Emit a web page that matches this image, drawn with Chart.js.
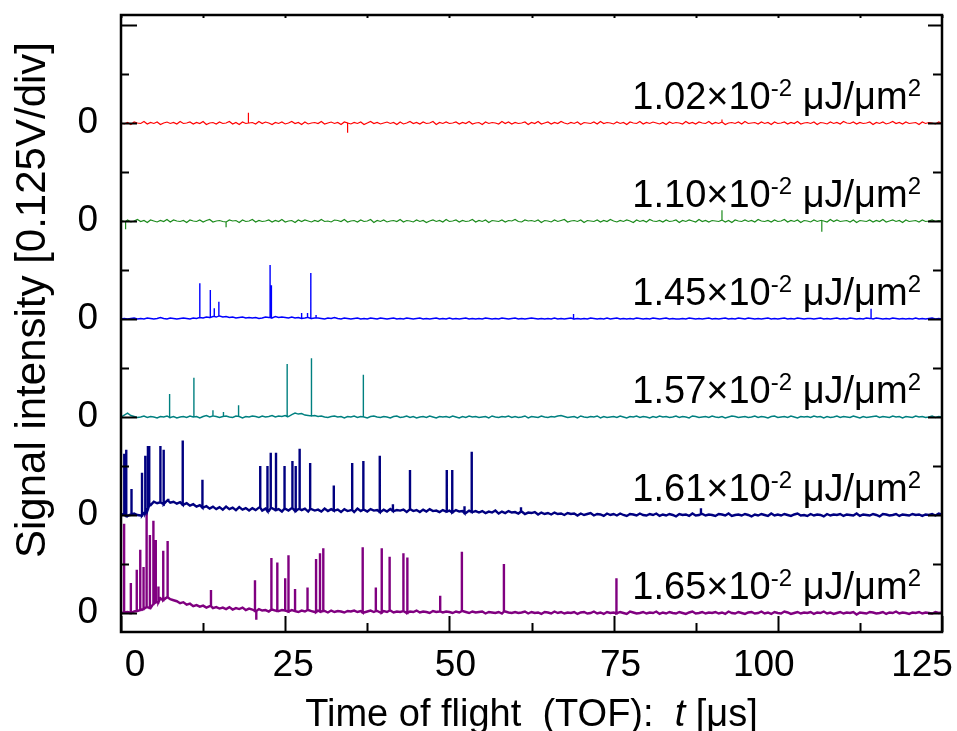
<!DOCTYPE html>
<html>
<head>
<meta charset="utf-8">
<title>TOF signal vs. fluence</title>
<script src="https://cdn.jsdelivr.net/npm/chart.js@4/dist/chart.umd.min.js"></script>
<style>
  html, body { margin: 0; padding: 0; background: #ffffff; }
  #wrap { width: 957px; height: 731px; }
</style>
</head>
<body>
<div id="wrap"><canvas id="tof" width="957" height="731"></canvas></div>
<script>
// ---------------------------------------------------------------
// Data: TOF traces, top to bottom (increasing laser fluence)
// ---------------------------------------------------------------
const fluenceLabels = ['1.02', '1.10', '1.45', '1.57', '1.61', '1.65']; // ×10^-2 µJ/µm²

const sampleStep = 0.5; // µs between baseline samples

// Baseline signal, hundredths of a division, one sample every 0.5 µs (t = 0 … 125)
const baseline102 = [
  0,-2,1,-3,2,0,-1,3,-2,1,
  -1,2,-3,0,2,-1,1,-2,3,-1,
  0,2,-2,1,-1,3,-3,0,1,-2,
  2,-1,0,3,-2,1,-3,2,-1,0,
  1,-2,3,-1,2,0,-3,1,-1,2,
  -2,0,3,-1,1,-3,2,-2,0,1,
  -1,3,-2,0,2,-1,1,-3,2,0,
  -2,1,-1,2,-3,0,3,-1,1,-2,
  0,2,-1,1,-3,2,-2,0,3,-1,
  1,-2,2,-1,0,3,-3,1,-1,2,
  -1,0,2,-2,1,-1,3,-2,0,1,
  -3,2,-1,1,0,-2,3,-1,2,-2,
  1,-1,0,2,-3,1,-1,3,-2,0,
  2,-2,1,-1,3,0,-2,1,-1,2,
  -3,1,0,-1,2,-2,3,-1,1,0,
  -2,2,-1,1,-3,2,0,-1,3,-2,
  1,-1,2,0,-2,1,-3,2,-1,1,
  0,-2,3,-1,1,-2,2,0,-1,3,
  -2,1,-1,2,-3,0,1,-1,2,-2,
  3,-1,0,1,-2,2,-1,1,-3,2,
  -1,0,2,-2,1,-1,3,-2,0,1,
  -1,2,-3,1,0,-2,2,-1,1,-2,
  3,0,-1,2,-2,1,-1,0,2,-3,
  1,-1,2,-2,0,3,-1,1,-2,2,
  -1,0,1,-3,2,-1,1,0,-2,2,
  -1
];
const baseline110 = [
  1,-1,2,-2,0,3,-1,1,-3,2,
  0,-2,1,-1,3,-2,2,0,-1,1,
  -3,2,0,-1,2,-2,1,3,-2,0,
  1,-1,-2,2,0,1,-3,2,-1,0,
  3,-2,1,-1,0,2,-2,1,-1,3,
  -2,0,1,-3,2,-1,2,0,-2,1,
  -1,3,-1,0,-2,2,1,-1,3,-2,
  0,1,-2,2,-1,0,3,-3,1,-1,
  2,-2,0,1,-1,3,-2,1,0,-2,
  2,-1,1,-3,0,2,-1,1,-2,3,
  -1,0,2,-2,1,-1,0,3,-2,1,
  -1,2,-3,1,0,-1,2,-2,1,0,
  3,-1,-2,2,0,1,-1,2,-3,1,
  0,-2,2,-1,1,3,-2,0,1,-1,
  2,-3,1,0,-1,2,-2,1,-1,3,
  0,-2,1,-1,2,0,-3,2,-1,1,
  -2,3,0,-1,1,-2,2,-1,0,2,
  -3,1,-1,2,0,-2,3,-1,1,-2,
  1,0,-1,2,-2,1,-3,2,0,-1,
  2,-1,1,-2,3,0,-1,1,-2,2,
  -1,0,3,-2,1,-1,2,-3,1,0,
  -2,2,-1,1,0,-2,3,-1,2,-1,
  0,1,-2,2,-3,1,0,-1,2,-2,
  1,-1,3,-2,0,2,-1,1,-3,2,
  -1,0,1,-2,2,-1,0,2,-1,1,
  0
];
const baseline145 = [
  0,1,0,1,2,0,1,0,2,1,
  0,1,3,1,0,2,1,0,1,2,
  1,0,2,1,3,2,4,3,5,4,
  6,4,5,3,4,2,3,4,2,3,
  2,3,1,2,4,3,2,5,3,4,
  3,2,4,2,3,1,2,3,1,2,
  2,1,0,2,1,3,1,0,2,1,
  0,1,2,0,1,0,2,1,0,2,
  1,0,1,2,0,1,0,2,1,0,
  1,2,0,1,0,1,2,0,1,0,
  2,0,1,0,1,2,0,1,0,1,
  0,2,1,0,1,0,2,1,0,1,
  2,0,1,0,1,2,1,0,1,0,
  1,0,2,0,1,0,1,2,0,1,
  0,1,0,2,1,0,1,0,2,0,
  1,2,0,1,0,1,0,2,1,0,
  1,0,2,1,0,1,2,0,1,0,
  0,1,0,2,1,0,1,0,1,2,
  0,1,0,1,2,0,1,0,2,1,
  0,2,1,0,1,0,1,2,0,1,
  0,1,2,0,1,0,2,1,0,1,
  1,0,1,2,0,1,0,1,2,0,
  1,0,2,1,0,1,0,2,1,0,
  2,1,0,1,0,2,1,0,1,0,
  1,0,2,0,1,0,1,2,0,1,
  0
];
const baseline157 = [
  0,4,8,3,1,-1,0,2,-1,1,
  0,-2,1,0,2,-1,1,-2,0,1,
  -1,2,0,1,-2,1,3,0,2,1,
  -1,1,2,0,-1,2,1,-2,1,0,
  2,1,-1,2,0,1,3,0,2,1,
  3,1,5,8,6,7,4,3,2,3,
  1,2,0,-1,1,2,0,1,-2,1,
  0,2,-1,1,0,-2,1,2,0,-1,
  1,0,-2,1,2,-1,0,2,-1,1,
  -2,0,1,-1,2,0,-2,1,0,1,
  -1,2,0,-2,1,-1,2,0,1,-1,
  0,1,-2,2,0,-1,1,0,2,-1,
  1,-1,0,2,-2,1,0,-1,2,0,
  -1,1,0,2,3,1,-1,0,1,-2,
  2,0,-1,1,0,2,-2,1,-1,0,
  1,-1,2,0,-2,1,0,2,-1,1,
  0,-2,1,-1,2,0,1,-1,0,2,
  -1,1,0,-2,2,1,-1,0,1,-1,
  2,0,-1,1,-2,0,2,1,-1,0,
  1,-1,0,2,-1,1,0,-2,1,2,
  -1,0,1,-1,2,0,-2,1,0,1,
  -1,2,0,1,-2,1,-1,0,2,-1,
  1,0,-1,2,0,-2,1,-1,0,1,
  2,-1,1,0,-1,2,0,1,-2,1,
  0,-1,2,0,1,-1,0,2,-1,1,
  0
];
const baseline161 = [
  2,0,-2,1,3,0,-1,4,12,20,
  27,24,26,22,29,25,27,23,26,21,
  24,19,22,17,20,15,18,13,17,12,
  16,11,17,12,15,10,16,11,14,9,
  14,10,15,9,13,8,14,10,12,7,
  13,9,14,8,12,10,13,7,12,9,
  11,7,13,8,12,9,11,6,12,8,
  10,6,13,8,11,7,12,9,10,6,
  11,7,12,8,10,9,11,6,12,8,
  10,6,11,7,12,8,9,6,10,7,
  9,5,10,7,8,4,9,6,8,5,
  8,4,7,5,9,3,7,4,8,5,
  6,3,7,2,5,4,6,1,5,2,
  4,1,5,2,3,0,4,2,3,-1,
  3,0,2,4,-1,2,1,-2,3,0,
  2,-1,3,0,-2,2,1,-1,3,0,
  -1,2,0,3,-2,1,-1,2,0,-3,
  2,0,1,-2,3,-1,0,2,-1,1,
  0,-2,2,1,-1,3,-2,0,1,-1,
  2,0,-3,1,-1,2,0,-2,3,-1,
  1,-1,2,0,-2,1,3,-1,0,-2,
  2,-1,1,0,-3,2,-1,1,0,2,
  -2,1,0,-1,3,-2,1,0,-1,2,
  0,-3,2,1,-1,0,2,-2,1,0,
  -1,2,0,1,-2,1,0,2,-1,3,
  1
];
const baseline165 = [
  0,1,2,0,3,4,6,8,12,10,
  18,22,30,26,32,28,26,24,20,22,
  17,19,14,16,13,15,11,14,10,12,
  9,11,8,12,7,10,8,11,6,9,
  7,4,8,5,6,3,7,5,4,6,
  5,3,6,4,2,5,3,6,4,2,
  5,3,4,1,5,2,4,3,1,4,
  3,5,2,4,1,3,5,2,4,1,
  4,2,5,1,3,2,4,0,3,2,
  5,1,3,2,0,4,2,3,1,3,
  2,0,3,1,4,2,0,3,1,2,
  3,-1,2,1,0,2,-1,3,1,0,
  2,0,1,3,-1,2,0,1,-2,2,
  1,-1,3,0,2,-1,1,0,2,-2,
  1,2,-1,0,3,-1,1,-2,2,0,
  1,-1,2,0,-2,3,1,-1,0,2,
  -1,1,0,3,-2,1,-1,2,0,-1,
  2,0,-2,1,3,-1,0,2,-1,1,
  0,2,-1,1,-2,3,0,-1,2,0,
  -2,1,2,-1,0,3,-1,1,-2,2,
  0,-1,3,1,-2,0,2,-1,1,0,
  2,-2,1,0,3,-1,1,-2,0,2,
  -1,1,0,2,-3,1,0,-1,2,1,
  -1,0,2,-2,1,0,3,-1,1,0,
  -2,1,0,2,-1,1,0,-1,2,0,
  1
];

// Ion peaks: [time of flight (µs), peak signal (div)]
const peaks102 = [[19.4, 0.21], [34.5, -0.20], [91.5, 0.07], [125, -0.15]];
const peaks110 = [[0.7, -0.17], [16.0, -0.13], [91.5, 0.22], [106.7, -0.22]];
const peaks145 = [
  [0, 1.00], [12.0, 0.73], [13.6, 0.59], [14.2, 0.22], [14.9, 0.35],
  [22.7, 1.10], [22.9, 0.69], [27.5, 0.12], [28.4, 0.12], [28.9, 0.94],
  [29.7, 0.08], [68.9, 0.10], [114.2, 0.21]
];
const peaks157 = [
  [0, 0.92], [7.4, 0.47], [11.1, 0.80], [14.0, 0.14], [15.6, 0.10],
  [17.9, 0.24], [25.3, 1.08], [29.0, 1.20], [36.9, 0.86]
];
const peaks161 = [
  [0.5, 1.25], [0.8, 1.33], [1.6, 0.53], [3.2, 0.86], [3.7, 1.21],
  [4.1, 1.41], [4.3, 1.41], [6.0, 1.41], [6.5, 1.33], [7.2, 0.33],
  [9.4, 1.52], [12.4, 0.72], [21.2, 1.00], [22.3, 1.00], [22.8, 1.27],
  [23.6, 1.27], [24.9, 1.00], [26.1, 1.10], [26.6, 1.00], [27.2, 1.35],
  [28.8, 1.06], [32.4, 0.60], [35.2, 1.06], [36.9, 1.10], [39.4, 1.21],
  [41.4, 0.22], [44.0, 0.92], [49.6, 0.92], [50.4, 0.92], [52.3, 0.18],
  [53.4, 1.29], [60.9, 0.16], [88.3, 0.14]
];
const peaks165 = [
  [0.46, 1.82], [1.5, 0.61], [2.4, 0.88], [2.9, 1.29], [3.4, 0.94],
  [3.9, 2.07], [4.4, 1.59], [4.9, 1.88], [5.3, 1.49], [5.7, 0.54],
  [6.4, 1.27], [7.1, 1.47], [13.7, 0.47], [20.4, 0.67], [20.6, -0.14],
  [22.9, 1.12], [23.8, 1.03], [25.0, 0.71], [25.5, 1.18], [26.5, 0.49],
  [28.4, 0.52], [29.7, 1.10], [30.3, 1.22], [30.8, 1.32], [36.8, 1.34],
  [38.8, 0.52], [39.7, 1.32], [40.9, 1.15], [43.0, 1.22], [43.6, 1.13],
  [48.6, 0.35], [51.9, 1.25], [58.3, 1.00], [75.4, 0.71]
];

// Axis ticks
const xTickValues = [0, 25, 50, 75, 100, 125];
const xTickLabels = ['0', '25', '50', '75', '100', '125'];
const yTickValues = [0, 2, 4, 6, 8, 10];
const yTickLabels = ['0', '0', '0', '0', '0', '0'];

// ---------------------------------------------------------------
// Presentation
// ---------------------------------------------------------------
const FONT = "'Liberation Sans', Arial, Helvetica, sans-serif";
const DIVS_PER_TRACE = 2;           // vertical stacking step
const traceStyles = [
  { color: '#ff0000', width: 1.2 },
  { color: '#1b8a1b', width: 1.2 },
  { color: '#0000ff', width: 1.4 },
  { color: '#008080', width: 1.4 },
  { color: '#000080', width: 2.4 },
  { color: '#800080', width: 2.4 }
];
const baselines = [baseline102, baseline110, baseline145, baseline157, baseline161, baseline165];
const peakLists = [peaks102, peaks110, peaks145, peaks157, peaks161, peaks165];
const traceCount = baselines.length;
const offsetOf = i => (traceCount - 1 - i) * DIVS_PER_TRACE;

function buildTrace(base, peaks, offset) {
  const pts = base.map((v, i) => ({ x: i * sampleStep, y: offset + v / 100 }));
  peaks.forEach(([t, h]) => {
    const idx = Math.min(base.length - 1, Math.round(t / sampleStep));
    const foot = offset + base[idx] / 100;
    pts.push({ x: t, y: foot }, { x: t, y: offset + h }, { x: t, y: foot });
  });
  pts.sort((a, b) => a.x - b.x);
  return pts;
}

const datasets = baselines.map((b, i) => ({
  label: fluenceLabels[i],
  data: buildTrace(b, peakLists[i], offsetOf(i)),
  borderColor: traceStyles[i].color,
  borderWidth: traceStyles[i].width,
  pointRadius: 0,
  tension: 0,
  fill: false,
  borderJoinStyle: 'miter'
}));

// Inside tick marks and closed frame
const framePlugin = {
  id: 'frame',
  afterDatasetsDraw(chart) {
    const { ctx, chartArea: { left, right, top, bottom }, scales: { x, y } } = chart;
    ctx.save();
    ctx.strokeStyle = '#000';
    ctx.lineWidth = 2;
    ctx.beginPath();
    for (let v = 0; v <= 125.001; v += 12.5) {
      const px = Math.round(x.getPixelForValue(v)) + 0.5;
      const major = Math.abs(v % 25) < 1e-6;
      ctx.moveTo(px, bottom); ctx.lineTo(px, bottom - (major ? 16 : 9));
      ctx.moveTo(px, top); ctx.lineTo(px, top + 3);
    }
    for (let v = 0; v <= 12; v += 1) {
      const py = Math.round(y.getPixelForValue(v)) + 0.5;
      const major = v % 2 === 0;
      ctx.moveTo(left, py); ctx.lineTo(left + (major ? 16 : 8), py);
      ctx.moveTo(right, py); ctx.lineTo(right - (major ? 14 : 9), py);
    }
    ctx.stroke();
    ctx.lineWidth = 2.5;
    ctx.strokeRect(left, top, right - left, bottom - top);
    ctx.restore();
  }
};

// X tick labels, axis titles and fluence annotations
const textPlugin = {
  id: 'texts',
  afterDraw(chart) {
    const { ctx, chartArea: { left, right, top, bottom }, scales: { x, y } } = chart;
    ctx.save();
    ctx.fillStyle = '#000';

    // x tick labels
    const nudge = [14, 8, 6, 7, -14, -20];
    ctx.font = `37px ${FONT}`;
    ctx.textAlign = 'center';
    ctx.textBaseline = 'alphabetic';
    xTickValues.forEach((v, i) => {
      ctx.fillText(xTickLabels[i], x.getPixelForValue(v) + nudge[i], bottom + 44);
    });

    // x title with italic t
    const parts = [
      ['Time of flight  (TOF):  ', ''],
      ['t', 'italic '],
      [' [μs]', '']
    ];
    let total = 0;
    parts.forEach(([s, st]) => { ctx.font = `${st}38px ${FONT}`; total += ctx.measureText(s).width; });
    let cx = (left + right) / 2 - total / 2;
    ctx.textAlign = 'left';
    parts.forEach(([s, st]) => {
      ctx.font = `${st}38px ${FONT}`;
      ctx.fillText(s, cx, 726);
      cx += ctx.measureText(s).width;
    });

    // y title
    ctx.save();
    ctx.translate(45, 300);
    ctx.rotate(-Math.PI / 2);
    ctx.font = `42px ${FONT}`;
    ctx.textAlign = 'center';
    ctx.fillText('Signal intensity [0.125V/div]', 0, 0);
    ctx.restore();

    // fluence annotations
    const mainFont = `38px ${FONT}`;
    const supFont = `24px ${FONT}`;
    fluenceLabels.forEach((f, i) => {
      const segs = [
        [f + '×10', mainFont, 0],
        ['-2', supFont, 13],
        [' μJ/μm', mainFont, 0],
        ['2', supFont, 13]
      ];
      let w = 0;
      segs.forEach(([s, fnt]) => { ctx.font = fnt; w += ctx.measureText(s).width; });
      let sx = right - 21 - w;
      const by = y.getPixelForValue(offsetOf(i)) - 14;
      segs.forEach(([s, fnt, rise]) => {
        ctx.font = fnt;
        ctx.fillText(s, sx, by - rise);
        sx += ctx.measureText(s).width;
      });
    });
    ctx.restore();
  }
};

new Chart(document.getElementById('tof'), {
  type: 'line',
  data: { datasets },
  options: {
    responsive: false,
    devicePixelRatio: 1,
    animation: false,
    events: [],
    layout: { autoPadding: false, padding: { top: 15, right: 15, left: 0, bottom: 0 } },
    plugins: { legend: { display: false }, tooltip: { enabled: false } },
    scales: {
      x: {
        type: 'linear',
        min: 0,
        max: 125,
        grid: { display: false, drawTicks: false },
        border: { display: false },
        ticks: { display: false },
        afterFit(scale) {
          scale.height = 99;
          scale.paddingLeft = 0; scale.paddingRight = 0;
        }
      },
      y: {
        type: 'linear',
        min: -0.388,
        max: 12.204,
        grid: { display: false, drawTicks: false },
        border: { display: false },
        afterBuildTicks(scale) { scale.ticks = yTickValues.map(v => ({ value: v })); },
        ticks: {
          color: '#000',
          padding: 23,
          font: { family: FONT, size: 37 },
          callback: (v, i) => yTickLabels[i]
        },
        afterFit(scale) {
          scale.width = 121;
          scale.paddingTop = 0; scale.paddingBottom = 0;
        }
      }
    }
  },
  plugins: [framePlugin, textPlugin]
});
</script>
</body>
</html>
